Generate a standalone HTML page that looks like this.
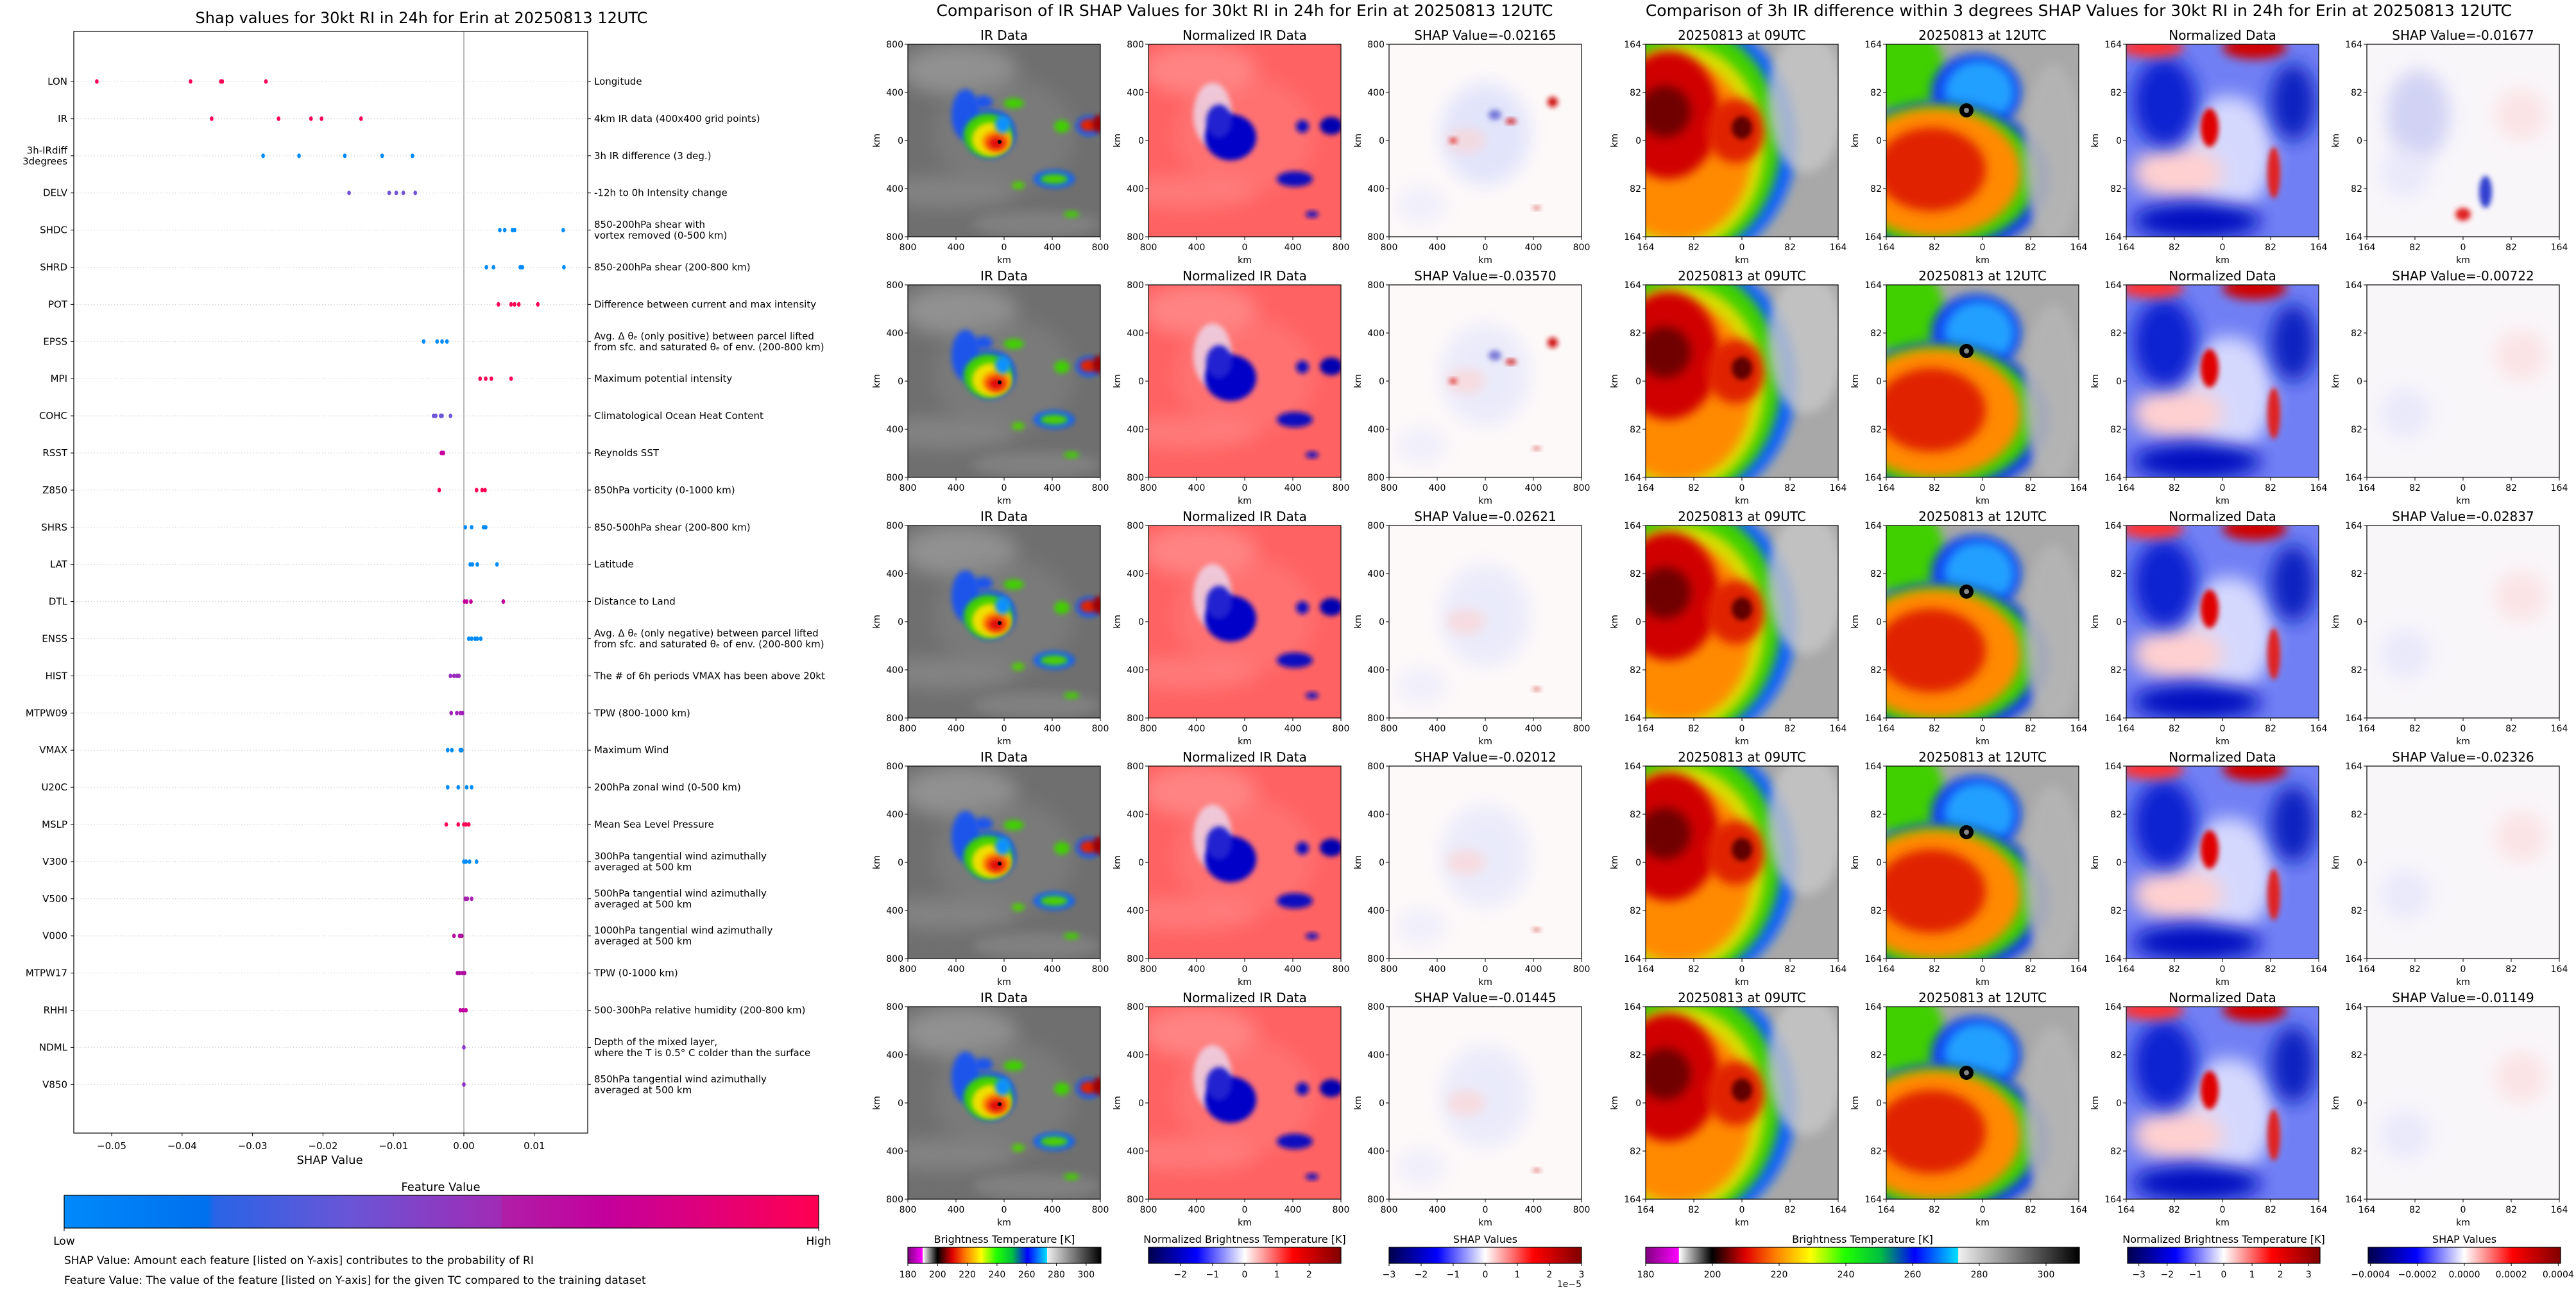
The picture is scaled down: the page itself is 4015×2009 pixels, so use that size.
<!DOCTYPE html>
<html><head><meta charset="utf-8">
<style>
html,body{margin:0;padding:0;background:#fff;}
svg{display:block;font-family:"DejaVu Sans","Liberation Sans",sans-serif;}
</style></head>
<body>
<svg id="root" width="4015" height="2009" viewBox="0 0 4015 2009" xmlns="http://www.w3.org/2000/svg">
<defs>
  <filter id="b4" x="-50%" y="-50%" width="200%" height="200%"><feGaussianBlur stdDeviation="4"/></filter>
  <filter id="b8" x="-50%" y="-50%" width="200%" height="200%"><feGaussianBlur stdDeviation="8"/></filter>
  <filter id="b14" x="-50%" y="-50%" width="200%" height="200%"><feGaussianBlur stdDeviation="14"/></filter>
  <linearGradient id="featGrad" x1="0" x2="1" y1="0" y2="0">
    <stop offset="0" stop-color="#008afb"/><stop offset="0.19" stop-color="#0070ee"/>
    <stop offset="0.2" stop-color="#2a64e6"/><stop offset="0.38" stop-color="#6a55d6"/>
    <stop offset="0.58" stop-color="#a12ab4"/><stop offset="0.58" stop-color="#b01ea8"/>
    <stop offset="0.72" stop-color="#c4009c"/><stop offset="1" stop-color="#ff0052"/>
  </linearGradient>
  <linearGradient id="irGrad" x1="0" x2="1" y1="0" y2="0">
    <stop offset="0" stop-color="#800080"/><stop offset="0.076" stop-color="#ff00ff"/>
    <stop offset="0.077" stop-color="#ffffff"/><stop offset="0.153" stop-color="#000000"/>
    <stop offset="0.23" stop-color="#e00000"/><stop offset="0.3" stop-color="#ff8000"/>
    <stop offset="0.38" stop-color="#ffff00"/><stop offset="0.46" stop-color="#20ff00"/>
    <stop offset="0.54" stop-color="#00c040"/><stop offset="0.62" stop-color="#0000ff"/>
    <stop offset="0.72" stop-color="#00e0ff"/><stop offset="0.721" stop-color="#f0f0f0"/>
    <stop offset="1" stop-color="#000000"/>
  </linearGradient>
  <linearGradient id="seis" x1="0" x2="1" y1="0" y2="0">
    <stop offset="0" stop-color="#00004c"/><stop offset="0.25" stop-color="#0000ff"/>
    <stop offset="0.5" stop-color="#ffffff"/><stop offset="0.75" stop-color="#ff0000"/>
    <stop offset="1" stop-color="#800000"/>
  </linearGradient>
</defs>
<g id="shapChart"></g>
<g id="panels"></g>
</svg>
<script>
const NS="http://www.w3.org/2000/svg";
const features=["LON","IR","3h-IRdiff\n3degrees","DELV","SHDC","SHRD","POT","EPSS","MPI","COHC","RSST","Z850","SHRS","LAT","DTL","ENSS","HIST","MTPW09","VMAX","U20C","MSLP","V300","V500","V000","MTPW17","RHHI","NDML","V850"];
const descriptions=["Longitude","4km IR data (400x400 grid points)","3h IR difference (3 deg.)","-12h to 0h Intensity change","850-200hPa shear with\nvortex removed (0-500 km)","850-200hPa shear (200-800 km)","Difference between current and max intensity","Avg. \u0394 \u03b8\u2091 (only positive) between parcel lifted\nfrom sfc. and saturated \u03b8\u2091 of env. (200-800 km)","Maximum potential intensity","Climatological Ocean Heat Content","Reynolds SST","850hPa vorticity (0-1000 km)","850-500hPa shear (200-800 km)","Latitude","Distance to Land","Avg. \u0394 \u03b8\u2091 (only negative) between parcel lifted\nfrom sfc. and saturated \u03b8\u2091 of env. (200-800 km)","The # of 6h periods VMAX has been above 20kt","TPW (800-1000 km)","Maximum Wind","200hPa zonal wind (0-500 km)","Mean Sea Level Pressure","300hPa tangential wind azimuthally\naveraged at 500 km","500hPa tangential wind azimuthally\naveraged at 500 km","1000hPa tangential wind azimuthally\naveraged at 500 km","TPW (0-1000 km)","500-300hPa relative humidity (200-800 km)","Depth of the mixed layer,\nwhere the T is 0.5\u00b0 C colder than the surface","850hPa tangential wind azimuthally\naveraged at 500 km"];
const shapValues=[
 [-0.0521,-0.0388,-0.0345,-0.0343,-0.0281],
 [-0.0358,-0.0263,-0.0217,-0.0202,-0.0146],
 [-0.0285,-0.0234,-0.0169,-0.0116,-0.0073],
 [-0.0163,-0.0106,-0.0096,-0.0086,-0.0069],
 [0.0051,0.0058,0.0069,0.0072,0.0141],
 [0.0032,0.0042,0.0080,0.0083,0.0142],
 [0.0049,0.0067,0.0072,0.0078,0.0105],
 [-0.0057,-0.0038,-0.0031,-0.0024],
 [0.0023,0.0031,0.0039,0.0067],
 [-0.0043,-0.0040,-0.0033,-0.0031,-0.0019],
 [-0.0032,-0.0030,-0.0029],
 [-0.0035,0.0018,0.0026,0.0030],
 [0.0002,0.0011,0.0028,0.0031],
 [0.0009,0.0012,0.0019,0.0047],
 [0.0001,0.0004,0.0010,0.0056],
 [0.0007,0.0011,0.0016,0.0019,0.0024],
 [-0.0019,-0.0014,-0.0010,-0.0007],
 [-0.0018,-0.0010,-0.0005,-0.0002],
 [-0.0023,-0.0017,-0.0005,-0.0003],
 [-0.0023,-0.0008,0.0004,0.0011],
 [-0.0025,-0.0008,0.0000,0.0003,0.0007],
 [0.0000,0.0003,0.0008,0.0018],
 [0.0002,0.0005,0.0011],
 [-0.0014,-0.0006,-0.0003],
 [-0.0009,-0.0006,-0.0002,0.0001],
 [-0.0005,-0.0001,0.0003],
 [0.0000],
 [0.0000]];
const featureColors=["#ff0052","#ff0052","#008bfb","#7452d8","#008bfb","#008bfb","#ff0052","#008bfb","#ff0052","#6e55d8","#c8009e","#ff0052","#008bfb","#008bfb","#c4009c","#008bfb","#9a2bbf","#a020b8","#008bfb","#008bfb","#ff0052","#008bfb","#a822b0","#b0109e","#b010a0","#c000a0","#8a3cc8","#9030c0"];
const xTicks=[-0.05,-0.04,-0.03,-0.02,-0.01,0.00,0.01];
const xTickLabels=["\u22120.05","\u22120.04","\u22120.03","\u22120.02","\u22120.01","0.00","0.01"];
const leftShapTitles=["-0.02165","-0.03570","-0.02621","-0.02012","-0.01445"];
const rightShapTitles=["-0.01677","-0.00722","-0.02837","-0.02326","-0.01149"];
const irCbTicks=[180,200,220,240,260,280,300];
const normCbTicks=[-2,-1,0,1,2];
const shapCbTicks=[-3,-2,-1,0,1,2,3];
const irCbTicksR=[180,200,220,240,260,280,300];
const normCbTicksR=[-3,-2,-1,0,1,2,3];
const shapCbTicksR=[-0.0004,-0.0002,0.0000,0.0002,0.0004];
const shapCbLabelsR=["\u22120.0004","\u22120.0002","0.0000","0.0002","0.0004"];

function mk(tag,attrs,parent){const e=document.createElementNS(NS,tag);for(const k in attrs)e.setAttribute(k,attrs[k]);if(parent)parent.appendChild(e);return e;}
function txt(parent,x,y,s,size,anchor,extra){const t=mk("text",Object.assign({x:x,y:y,"font-size":size,"text-anchor":anchor||"start",fill:"#000"},extra||{}),parent);t.textContent=s;return t;}

const C=document.getElementById("shapChart");
const axL=115,axR=916,axT=49,axB=1766;
const x0=723,xPer=10980;
function xs(v){return x0+v*xPer;}
const y0=127,yStep=57.9;
function ys(i){return y0+i*yStep;}
let t=txt(C,657,36,"Shap values for 30kt RI in 24h for Erin at 20250813 12UTC",24,"middle");


features.forEach((f,i)=>{
  const y=ys(i);
  const g=mk("line",{x1:axL,x2:axR,y1:y,y2:y,stroke:"#cccccc","stroke-width":1,"stroke-dasharray":"1.5,3"},C);
  
  
  mk("line",{x1:axL-5,x2:axL,y1:y,y2:y,stroke:"#000","stroke-width":1},C);
  mk("line",{x1:axR,x2:axR+5,y1:y,y2:y,stroke:"#000","stroke-width":1},C);
  const lines=f.split("\n");
  lines.forEach((ln,k)=>{
    const lt=txt(C,105,y+5+(k-(lines.length-1)/2)*17,ln,15,"end");
    
    
  });
  const dl=descriptions[i].split("\n");
  dl.forEach((ln,k)=>{
    const dt=txt(C,926,y+5+(k-(dl.length-1)/2)*17,ln,15,"start");
    
    
  });
});
const zl=mk("line",{x1:x0,x2:x0,y1:axT,y2:axB,stroke:"#888","stroke-width":1.2},C);


shapValues.forEach((arr,i)=>{
  arr.forEach(v=>{
    const d=mk("ellipse",{cx:xs(v),cy:ys(i),rx:2.8,ry:3.6,fill:featureColors[i]},C);
    
    
  });
});
const box=mk("rect",{x:axL,y:axT,width:axR-axL,height:axB-axT,fill:"none",stroke:"#000","stroke-width":1.2},C);


xTicks.forEach((v,i)=>{
  mk("line",{x1:xs(v),x2:xs(v),y1:axB,y2:axB+5,stroke:"#000"},C);
  const tl=txt(C,xs(v),1791,xTickLabels[i],15,"middle");
  
  
});
t=txt(C,514,1814,"SHAP Value",18,"middle");


t=txt(C,687,1856,"Feature Value",18,"middle");


const fb=mk("rect",{x:100,y:1863,width:1176,height:51,fill:"url(#featGrad)",stroke:"#000","stroke-width":1.2},C);


mk("line",{x1:100,x2:100,y1:1914,y2:1919,stroke:"#000"},C);
mk("line",{x1:1276,x2:1276,y1:1914,y2:1919,stroke:"#000"},C);
t=txt(C,100,1940,"Low",17,"middle");
t=txt(C,1276,1940,"High",17,"middle");
t=txt(C,100,1970,"SHAP Value: Amount each feature [listed on Y-axis] contributes to the probability of RI",17,"start");

t=txt(C,100,2001,"Feature Value: The value of the feature [listed on Y-axis] for the given TC compared to the training dataset",17,"start");


const P=document.getElementById("panels");
t=txt(P,1940,25,"Comparison of IR SHAP Values for 30kt RI in 24h for Erin at 20250813 12UTC",25,"middle");

t=txt(P,3240,25,"Comparison of 3h IR difference within 3 degrees SHAP Values for 30kt RI in 24h for Erin at 20250813 12UTC",25,"middle");


let clipId=0;
function blob(g,cx,cy,rx,ry,fill,filt,op){mk("ellipse",{cx:cx,cy:cy,rx:rx,ry:ry,fill:fill,filter:filt?"url(#"+filt+")":"",opacity:op==null?1:op},g);}
function content(g,type,row){
  if(type==="ir"){
    mk("rect",{x:0,y:0,width:300,height:300,fill:"#6f6f6f"},g);
    blob(g,80,40,90,40,"#9a9a9a","b14",0.8);blob(g,60,230,110,25,"#8c8c8c","b14",0.7);
    blob(g,200,280,100,20,"#8c8c8c","b8",0.6);blob(g,150,140,110,90,"#858585","b14",0.5);
    blob(g,90,110,22,40,"#1050ff","b4",0.85);blob(g,118,90,14,10,"#1050ff","b4",0.85);
    blob(g,128,140,40,38,"#1050ff","b4");blob(g,125,142,38,34,"#40d000","b4");
    blob(g,130,148,30,26,"#f0e000","b4");blob(g,138,152,22,17,"#ff8000","b4");blob(g,138,154,13,10,"#e01010","b4");
    mk("circle",{cx:143,cy:152,r:3,fill:"#000"},g);
    blob(g,165,92,16,8,"#40d000","b4");blob(g,148,125,12,14,"#1090ff","b4");
    blob(g,282,127,20,16,"#1060ff","b4");blob(g,282,126,14,10,"#e02000","b4");blob(g,298,124,10,14,"#a00000","b4");
    blob(g,240,128,12,10,"#40d000","b4");
    blob(g,228,210,32,14,"#1060ff","b4");blob(g,228,210,22,8,"#50d000","b4");blob(g,172,220,10,6,"#50d000","b4");
    blob(g,255,265,12,5,"#40d000","b4");
  }else if(type==="norm"){
    mk("rect",{x:0,y:0,width:300,height:300,fill:"#ff6262"},g);
    blob(g,80,40,90,40,"#ff9a9a","b14",0.6);blob(g,60,230,110,25,"#ff8a8a","b14",0.6);
    blob(g,150,140,110,90,"#ff8888","b14",0.4);
    blob(g,100,110,30,50,"#e8e8ff","b4",0.7);blob(g,128,145,40,36,"#0000c8","b4");blob(g,110,120,20,26,"#2020d0","b4");
    blob(g,285,127,18,14,"#0000b0","b4");blob(g,240,128,10,10,"#1010c0","b4");
    blob(g,228,210,28,12,"#1010c0","b4");blob(g,255,265,10,5,"#1010c0","b4");
  }else if(type==="shap"){
    mk("rect",{x:0,y:0,width:300,height:300,fill:"#fdf9f9"},g);
    blob(g,150,140,70,80,"#dfe2fb","b14",row===0?0.9:0.6);blob(g,50,250,40,30,"#e8e8fb","b14",0.6);
    blob(g,120,150,30,20,"#fbd6d6","b8",0.7);
    if(row<2){blob(g,165,110,10,8,"#3030c0","b4",0.6);blob(g,190,120,8,4,"#d01010","b4");blob(g,100,150,6,4,"#e02020","b4");blob(g,255,90,8,8,"#d01010","b4");}
    blob(g,230,255,6,3,"#d02020","b4",0.7);
  }else if(type==="d09"){
    mk("rect",{x:0,y:0,width:300,height:300,fill:"#a8a8a8"},g);
    blob(g,70,150,165,190,"#1060ff","b8");blob(g,60,150,150,180,"#40d000","b8");
    blob(g,55,160,130,160,"#ffe000","b8",0.8);blob(g,50,165,115,140,"#ff8a00","b8");
    blob(g,35,110,80,100,"#d00000","b8");blob(g,140,135,45,50,"#e02000","b8");
    blob(g,30,105,40,40,"#700000","b8");blob(g,150,130,16,18,"#600000","b4");
    blob(g,250,90,60,110,"#c8c8c8","b8",0.8);
  }else if(type==="d12"){
    mk("rect",{x:0,y:0,width:300,height:300,fill:"#a8a8a8"},g);
    blob(g,30,40,60,70,"#40d000","b8");blob(g,140,75,70,60,"#1040f0","b8");blob(g,145,75,55,50,"#20a0ff","b8");
    blob(g,85,210,170,120,"#1040f0","b8");blob(g,80,205,155,110,"#40d000","b8");
    blob(g,75,200,135,100,"#ff8a00","b8");blob(g,70,195,85,65,"#e02000","b8");
    mk("circle",{cx:125,cy:103,r:11,fill:"#000"},g);mk("circle",{cx:125,cy:103,r:4,fill:"#888"},g);
    blob(g,260,170,45,140,"#b5b5b5","b8",0.9);
  }else if(type==="dnorm"){
    mk("rect",{x:0,y:0,width:300,height:300,fill:"#7080f4"},g);
    blob(g,160,170,70,90,"#e0e2ff","b14",0.9);blob(g,80,200,70,40,"#ffd0d0","b14");
    blob(g,60,90,50,70,"#1020d0","b14");blob(g,260,90,35,60,"#1020c0","b14");blob(g,110,275,100,28,"#0010c0","b14");
    blob(g,40,5,50,15,"#ff3030","b8");blob(g,200,5,50,18,"#d00000","b8");
    blob(g,130,130,14,30,"#e00000","b4");blob(g,230,200,10,40,"#e02020","b4");
  }else{
    mk("rect",{x:0,y:0,width:300,height:300,fill:"#f9f6fa"},g);
    if(row===0){blob(g,80,110,50,70,"#c8caf3","b14",0.8);blob(g,185,230,10,25,"#3040d0","b4");blob(g,150,265,12,10,"#e02020","b4");}
    blob(g,240,110,40,40,"#fcdcdc","b14",0.7);blob(g,60,200,40,40,"#e4e4fa","b14",0.7);
  }
}
function panel(x,y,type,row,title,tickLbl){
  const g=mk("g",{},P);
  
  
  const id="cp"+(clipId++);
  const cp=mk("clipPath",{id:id},g);mk("rect",{x:0,y:0,width:300,height:300},cp);
  const inner=mk("g",{transform:"translate("+x+","+y+")","clip-path":"url(#"+id+")"},g);
  content(inner,type,row);
  mk("rect",{x:x,y:y,width:300,height:300,fill:"none",stroke:"#000","stroke-width":1.2},g);
  const tt=txt(g,x+150,y-7,title,20,"middle");
  
  
  for(let k=0;k<5;k++){
    const p=k*75;
    mk("line",{x1:x-5,x2:x,y1:y+p,y2:y+p,stroke:"#000"},g);
    txt(g,x-7,y+p+5,tickLbl[k],14,"end");
    mk("line",{x1:x+p,x2:x+p,y1:y+300,y2:y+305,stroke:"#000"},g);
    txt(g,x+p,y+321,tickLbl[k],14,"middle");
  }
  txt(g,x+150,y+341,"km",14,"middle");
  const yl=txt(g,0,0,"km",14,"middle",{transform:"translate("+(x-44)+","+(y+150)+") rotate(-90)"});
  
  
}
const lt=["800","400","0","400","800"], rt=["164","82","0","82","164"];
for(let r=0;r<5;r++){
  const y=69+r*375;
  panel(1415,y,"ir",r,"IR Data",lt);
  panel(1790,y,"norm",r,"Normalized IR Data",lt);
  panel(2165,y,"shap",r,"SHAP Value="+leftShapTitles[r],lt);
  panel(2565,y,"d09",r,"20250813 at 09UTC",rt);
  panel(2940,y,"d12",r,"20250813 at 12UTC",rt);
  panel(3314,y,"dnorm",r,"Normalized Data",rt);
  panel(3689,y,"dshap",r,"SHAP Value="+rightShapTitles[r],rt);
}
function cbar(x,w,fill,title,vmin,vmax,ticks,labels,name){
  const g=mk("g",{},P);
  
  
  txt(g,x+w/2,1937,title,16,"middle");
  mk("rect",{x:x,y:1944,width:w,height:25,fill:fill,stroke:"#000","stroke-width":1.2},g);
  ticks.forEach((v,i)=>{
    const px=x+(v-vmin)/(vmax-vmin)*w;
    mk("line",{x1:px,x2:px,y1:1969,y2:1973,stroke:"#000"},g);
    txt(g,px,1991,labels?labels[i]:String(v).replace("-","\u2212"),14,"middle");
  });
}
cbar(1415,301,"url(#irGrad)","Brightness Temperature [K]",180,310,irCbTicks,null,"ir-colorbar");
cbar(1790,300,"url(#seis)","Normalized Brightness Temperature [K]",-2.99,2.99,normCbTicks,null,"norm-colorbar");
cbar(2165,300,"url(#seis)","SHAP Values",-3,3,shapCbTicks,null,"shap-colorbar");
t=txt(P,2465,2006,"1e\u22125",14,"end");
cbar(2565,676,"url(#irGrad)","Brightness Temperature [K]",180,310,irCbTicksR,null,"diff-bt-colorbar");
cbar(3316,300,"url(#seis)","Normalized Brightness Temperature [K]",-3.4,3.4,normCbTicksR,null,"diff-norm-colorbar");
cbar(3691,300,"url(#seis)","SHAP Values",-0.00041,0.00041,shapCbTicksR,shapCbLabelsR,"diff-shap-colorbar");
</script>
</body></html>
